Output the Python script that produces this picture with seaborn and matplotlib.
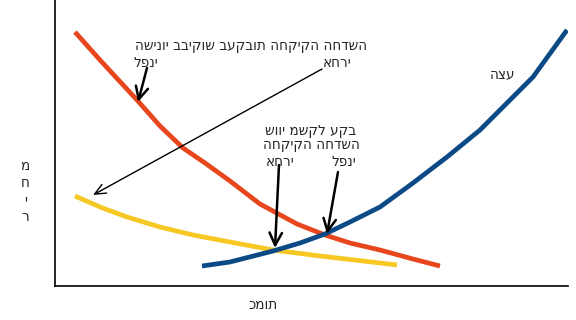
import matplotlib
matplotlib.use("Agg")
import matplotlib.pyplot as plt
import seaborn as sns
import pandas as pd

# ---- data (quantity, price) ----
demand_before_q = [20, 45, 82, 105, 128, 150, 175, 205, 242, 270, 295, 325, 358, 385]
demand_before_p = [254, 226, 186, 160, 138, 123, 105, 82, 62, 51, 43, 36, 27, 20]

demand_after_q = [20, 45, 72, 105, 138, 175, 218, 265, 308, 342]
demand_after_p = [90, 79, 69, 59, 51, 44, 36, 30, 25, 21]

supply_q = [147, 175, 218, 245, 270, 295, 325, 358, 392, 425, 455, 478, 512]
supply_p = [20, 24, 35, 43, 52, 64, 79, 103, 129, 156, 186, 209, 256]

curve_names = ["ביקוש לפני", "ביקוש אחרי", "הצע"]
curve_colors = ["#E8461D", "#F7C823", "#0C4A86"]

title_text = "השינוי בביקוש בעקבות החקיקה החדשה"
before_text = "לפני"
after_text = "אחרי"
eq_line1 = "שווי משקל עקב"
eq_line2 = "החקיקה החדשה"
supply_text = "הצע"
x_label = "כמות"
y_label = "מחיר"

df = pd.concat([
    pd.DataFrame({"q": demand_before_q, "p": demand_before_p, "c": curve_names[0]}),
    pd.DataFrame({"q": demand_after_q, "p": demand_after_p, "c": curve_names[1]}),
    pd.DataFrame({"q": supply_q, "p": supply_p, "c": curve_names[2]}),
])

sns.set_style("white")
plt.rcParams["font.family"] = ["DejaVu Sans"]

fig = plt.figure(figsize=(5.76, 3.2), dpi=100)
ax = fig.add_axes([55 / 576, 34 / 320, 513 / 576, 286 / 320])

sns.lineplot(data=df, x="q", y="p", hue="c", palette=dict(zip(curve_names, curve_colors)),
             estimator=None, sort=False, linewidth=3.4, legend=False, ax=ax)
for ln in ax.get_lines():
    ln.set_solid_capstyle("butt")
    ln.set_solid_joinstyle("round")

ax.set_xlim(0, 513)
ax.set_ylim(0, 286)
ax.set_xticks([])
ax.set_yticks([])
for s in ["top", "right"]:
    ax.spines[s].set_visible(False)
for s in ["left", "bottom"]:
    ax.spines[s].set_color("black")
    ax.spines[s].set_linewidth(1.2)

fs = 9.8
ax.set_xlabel(x_label, fontsize=fs)
ax.xaxis.set_label_coords(0.405, -0.042)
ax.set_ylabel("\n".join(y_label), rotation=0, fontsize=fs, va="center", ha="center",
              linespacing=1.25)
ax.yaxis.set_label_coords(-0.058, 0.33)

ax.text(196, 240, title_text, fontsize=fs, ha="center", va="center")
ax.text(91, 223, before_text, fontsize=fs, ha="center", va="center")
ax.text(282, 223, after_text, fontsize=fs, ha="center", va="center")

ax.text(256, 155, eq_line1, fontsize=fs, ha="center", va="center")
ax.text(256, 141, eq_line2, fontsize=fs, ha="center", va="center")
ax.text(225, 124, after_text, fontsize=fs, ha="center", va="center")
ax.text(289, 124, before_text, fontsize=fs, ha="center", va="center")

ax.text(448, 212, supply_text, fontsize=fs, ha="center", va="center")

thick = dict(arrowstyle="->,head_length=0.9,head_width=0.45", color="black", lw=1.8,
             shrinkA=0, shrinkB=0)
thin = dict(arrowstyle="->,head_length=0.8,head_width=0.35", color="black", lw=1.0,
            shrinkA=0, shrinkB=0)
ax.annotate("", xy=(83, 184), xytext=(92, 218), arrowprops=thick)
ax.annotate("", xy=(38, 91), xytext=(267, 217), arrowprops=thin)
ax.annotate("", xy=(220, 38), xytext=(224, 121), arrowprops=thick)
ax.annotate("", xy=(272, 52), xytext=(283, 114), arrowprops=thick)

fig.savefig("out.png", dpi=100)
